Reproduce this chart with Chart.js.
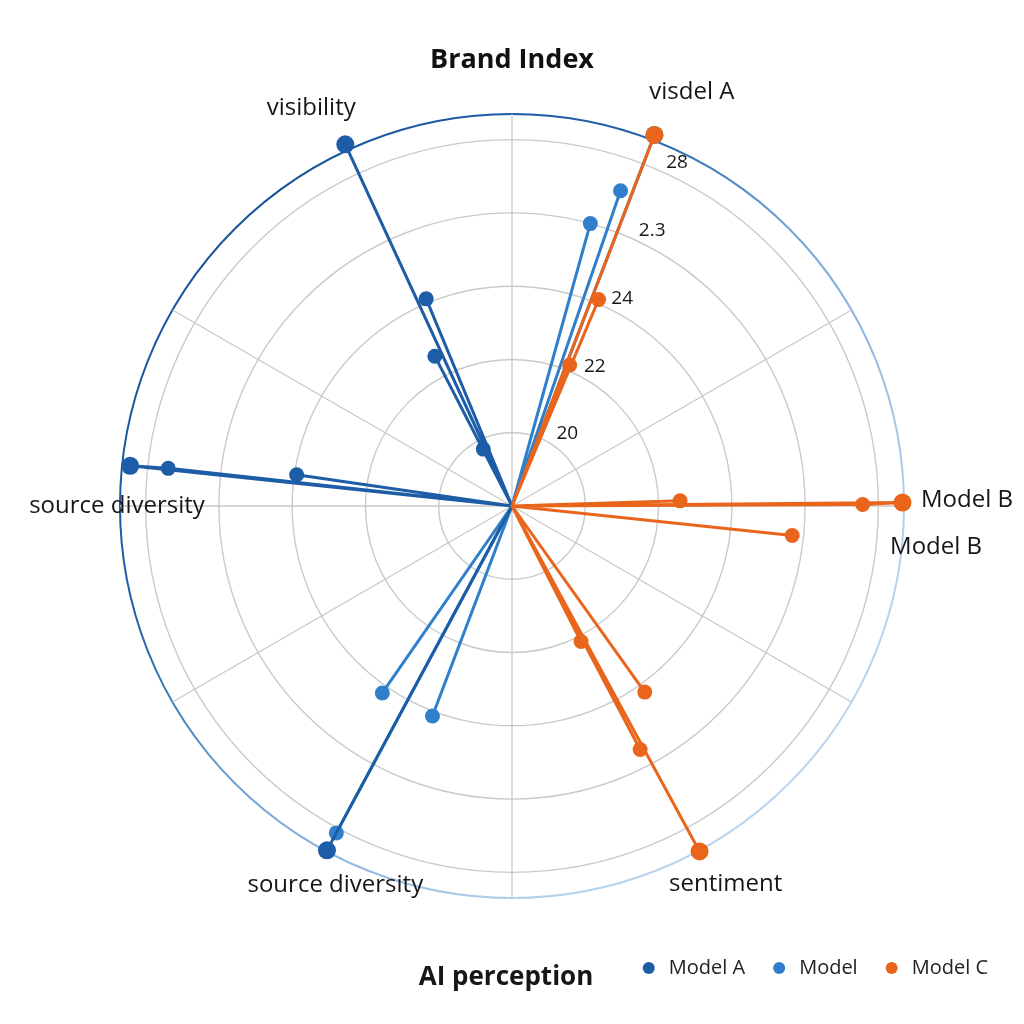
<!DOCTYPE html>
<html>
<head>
<meta charset="utf-8">
<title>Brand Index</title>
<script src="https://cdn.jsdelivr.net/npm/chart.js@4.4.1/dist/chart.umd.min.js"></script>
<style>
  html, body { margin: 0; padding: 0; background: #fff; }
</style>
</head>
<body>
<canvas id="chart" width="1024" height="1024"></canvas>
<script>
// the radar is cut into fine slots so the spikes can sit at any angle
const STEP = 0.25
const SLOTS = 360 / STEP
const rMin = 18
const rMax = 28.7

const seriesNames = ['Model A', 'Model', 'Model C']
const seriesColors = ['#1d5ca6', '#2f7fca', '#e8651b']

/* points: angle clockwise from top (deg) + value */
const modelAAngles = [208.25, 276, 276.25, 278.25, 332.75, 333.25, 335.25, 337.5]
const modelAValues = [28.67, 28.48, 27.44, 23.94, 22.6, 19.74, 28.87, 24.12]

const modelAngles = [15.5, 19, 21, 200.75, 208.25, 214.75]
const modelValues = [26.0, 27.1, 28.85, 24.13, 28.13, 24.21]

const modelCAngles = [21, 22.25, 22.75, 88.25, 89.5, 89.75, 96, 144.5, 151.5, 152.25, 153]
const modelCValues = [28.85, 22.16, 24.11, 22.59, 28.66, 27.57, 25.69, 24.24, 28.73, 25.51, 22.15]

// rings and their labels
const ringValues = [18, 20, 22, 24, 26, 28, 28.7]
const ringLabels = ['20', '22', '24', '2.3', '28']
const ringLabelValues = [20, 22, 24, 26, 28]
const spokeAngles = [0, 60, 90, 120, 180, 240, 270, 300]

const axisTitles = ['visibility', 'visdel A', 'Model B', 'Model B', 'sentiment', 'source diversity', 'source diversity']
// where each title sits: [angle, px from centre]
const axisTitleSpots = [[333.3, 446], [23.4, 451], [89.2, 455], [95.5, 426], [150.6, 434], [204.9, 418], [270, 395]]

const labels = Array.from({length: SLOTS}, () => '')

function spikes(angles, values) {
	const data = new Array(SLOTS).fill(rMin)
	angles.forEach((a, i) => { data[Math.round(a / STEP) % SLOTS] = values[i] })
	return data
}

function dotSize(c) {
	if (c.raw <= rMin) return 0
	return c.raw > 28.3 ? 9 : 7.5
}

function makeDataset(i, angles, values, order) {
	const color = seriesColors[i]
	return {
		label: seriesNames[i],
		data: spikes(angles, values),
		borderColor: color,
		backgroundColor: color,
		pointBackgroundColor: color,
		pointBorderColor: color,
		pointBorderWidth: 0,
		borderWidth: 3,
		borderJoinStyle: 'round',
		fill: false,
		order: order,
		pointRadius: dotSize,
		pointHoverRadius: dotSize
	}
}

const annotate = {
	id: 'annotate',
	afterDraw(chart) {
		const {ctx} = chart
		const r = chart.scales.r
		ctx.save()
		ctx.fillStyle = '#161616'
		ctx.textBaseline = 'middle'

		ctx.font = '24px "Open Sans"'
		ctx.textAlign = 'center'
		axisTitles.forEach((t, i) => {
			const [deg, dist] = axisTitleSpots[i]
			const p = r.getPointPosition(Math.round(deg / STEP), dist)
			ctx.fillText(t, p.x, p.y)
		})

		// ring values next to the orange spoke
		ctx.font = '19px "Open Sans"'
		ctx.textAlign = 'left'
		ringLabels.forEach((t, i) => {
			const p = r.getPointPositionForValue(Math.round(22 / STEP), ringLabelValues[i])
			ctx.fillText(t, p.x + 17, p.y - 4)
		})

		ctx.font = 'bold 26px "Open Sans"'
		ctx.textAlign = 'center'
		ctx.fillText('AI perception', 506, 978)
		ctx.restore()
	}
}

Chart.defaults.font.family = '"Open Sans", sans-serif'
Chart.defaults.color = '#222'

new Chart(document.getElementById('chart'), {
	type: 'radar',
	data: {
		labels: labels,
		datasets: [
			makeDataset(0, modelAAngles, modelAValues, 0),
			makeDataset(1, modelAngles, modelValues, 0),
			makeDataset(2, modelCAngles, modelCValues, -1)
		]
	},
	options: {
		responsive: false,
		devicePixelRatio: 1,
		animation: false,
		layout: { padding: { left: 12, right: 12, top: 0, bottom: 36 } },
		scales: {
			r: {
				min: rMin,
				max: rMax,
				startAngle: 0,
				afterBuildTicks: (s) => { s.ticks = ringValues.map(v => ({value: v})) },
				ticks: { display: false },
				pointLabels: { display: false },
				grid: {
					circular: true,
					lineWidth: (c) => c.index === ringValues.length - 1 ? 2 : 1.4,
					color: (c) => {
						if (c.index !== ringValues.length - 1) return '#cacaca'
						const s = c.scale
						const R = s.drawingArea
						const g = c.chart.ctx.createLinearGradient(s.xCenter - R, s.yCenter - R, s.xCenter + R, s.yCenter + R)
						g.addColorStop(0, '#154c92')
						g.addColorStop(0.33, '#1f5fa8')
						g.addColorStop(0.5, '#6fa3d6')
						g.addColorStop(0.75, '#b2cfeb')
						g.addColorStop(1, '#c8dcf0')
						return g
					}
				},
				angleLines: {
					color: '#c8c8c8',
					lineWidth: (c) => spokeAngles.includes(c.index * STEP) ? 1.3 : 0
				}
			}
		},
		plugins: {
			title: {
				display: true,
				text: 'Brand Index',
				color: '#111',
				font: { size: 27, weight: 'bold' },
				padding: { top: 44, bottom: 37.6 }
			},
			legend: {
				position: 'bottom',
				align: 'end',
				title: { display: true, text: '', font: { size: 10 }, padding: { top: 12, bottom: 12 } },
				labels: {
					usePointStyle: true,
					pointStyle: 'circle',
					boxWidth: 20,
					boxHeight: 8.5,
					padding: 24,
					color: '#222',
					font: { size: 20 },
					sort: (a, b) => a.datasetIndex - b.datasetIndex
				}
			},
			tooltip: { enabled: false }
		}
	},
	plugins: [annotate]
})
</script>
</body>
</html>
